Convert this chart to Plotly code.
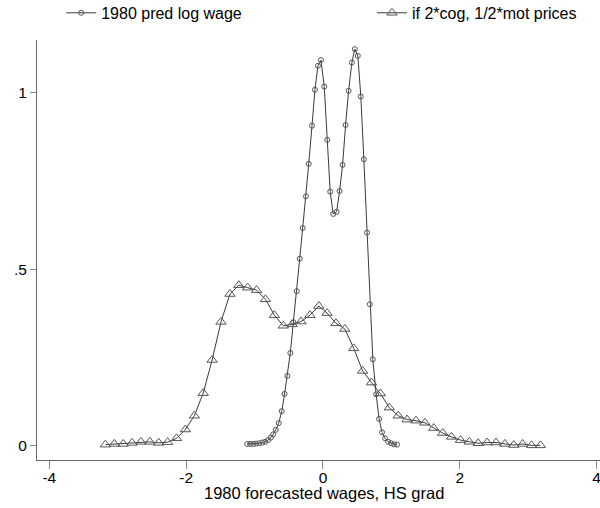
import plotly.graph_objects as go

# Series 1: 1980 pred log wage (circles)
base_x = [-1.108, -1.064, -1.020, -0.977, -0.933, -0.885, -0.845, -0.802, -0.762, -0.729,
          -0.690, -0.646, -0.602, -0.561, -0.520, -0.477, -0.433, -0.383, -0.340, -0.296,
          -0.248, -0.208, -0.160, -0.117, -0.073, -0.029, 0.019, 0.063, 0.106, 0.150,
          0.200, 0.243, 0.287, 0.331, 0.375, 0.423, 0.466, 0.510, 0.554, 0.598,
          0.644, 0.685, 0.729, 0.777, 0.821, 0.864, 0.908, 0.952, 0.996, 1.039, 1.083]
base_y = [0.005, 0.005, 0.005, 0.006, 0.007, 0.009, 0.011, 0.016, 0.023, 0.032,
          0.045, 0.064, 0.098, 0.147, 0.198, 0.263, 0.350, 0.438, 0.530, 0.617,
          0.707, 0.799, 0.907, 1.009, 1.077, 1.093, 1.018, 0.867, 0.720, 0.657,
          0.663, 0.722, 0.796, 0.909, 1.006, 1.086, 1.124, 1.105, 0.990, 0.812,
          0.604, 0.401, 0.245, 0.146, 0.076, 0.038, 0.021, 0.011, 0.007, 0.004, 0.003]

# Series 2: if 2*cog, 1/2*mot prices (triangles)
cf_x = [-3.18, -3.05, -2.92, -2.79, -2.66, -2.53, -2.40, -2.27, -2.14, -2.01,
        -1.88, -1.75, -1.62, -1.49, -1.36, -1.23, -1.10, -0.97, -0.84, -0.71,
        -0.58, -0.45, -0.32, -0.19, -0.06, 0.06, 0.19, 0.32, 0.45, 0.58,
        0.71, 0.84, 0.97, 1.10, 1.23, 1.36, 1.49, 1.62, 1.75, 1.88,
        2.01, 2.14, 2.27, 2.40, 2.53, 2.66, 2.79, 2.92, 3.05, 3.18]
cf_y = [0.003, 0.005, 0.005, 0.008, 0.011, 0.011, 0.008, 0.010, 0.021, 0.046,
        0.085, 0.149, 0.243, 0.351, 0.430, 0.455, 0.448, 0.441, 0.415, 0.370,
        0.340, 0.344, 0.352, 0.370, 0.396, 0.376, 0.347, 0.331, 0.276, 0.212,
        0.179, 0.148, 0.108, 0.085, 0.074, 0.071, 0.065, 0.050, 0.036, 0.025,
        0.016, 0.011, 0.007, 0.009, 0.009, 0.005, 0.002, 0.005, 0.001, 0.001]

names = ["1980 pred log wage", "if 2*cog, 1/2*mot prices"]
x_ticks = [-4, -2, 0, 2, 4]
x_ticklabels = ["-4", "-2", "0", "2", "4"]
y_ticks = [0, 0.5, 1]
y_ticklabels = ["0", ".5", "1"]
x_title = "1980 forecasted wages, HS grad"

FONT = "Arial, Liberation Sans, sans-serif"
LINE = "#3a3a3a"
MARK = "#555555"

fig = go.Figure()
fig.add_trace(go.Scatter(
    x=base_x, y=base_y, name=names[0], mode="lines+markers", legend="legend",
    line=dict(color=LINE, width=1),
    marker=dict(symbol="circle-open", size=5, color=MARK, line=dict(width=1, color=MARK)),
))
fig.add_trace(go.Scatter(
    x=cf_x, y=cf_y, name=names[1], mode="lines+markers", legend="legend2",
    line=dict(color=LINE, width=1),
    marker=dict(symbol="triangle-up-open", size=9, color=MARK, line=dict(width=1, color=MARK)),
))

leg_common = dict(orientation="h", xanchor="left", y=1.105, yanchor="top",
                  font=dict(size=16), itemwidth=30, bgcolor="rgba(0,0,0,0)")

fig.update_layout(
    width=600, height=508,
    margin=dict(l=37, r=0, t=40, b=48, autoexpand=False),
    paper_bgcolor="white", plot_bgcolor="white",
    font=dict(family=FONT, size=15, color="black"),
    showlegend=True,
    legend=dict(x=0.043, **leg_common),
    legend2=dict(x=0.595, **leg_common),
    xaxis=dict(range=[-4.18, 4.05], tickvals=x_ticks, ticktext=x_ticklabels,
               showgrid=False, zeroline=False, showline=True, linecolor="#666666",
               linewidth=1, ticks="outside", ticklen=8, tickcolor="#888888",
               ticklabelstandoff=-5, ticklabeloverflow="allow",
               tickfont=dict(size=15.5), automargin=False),
    yaxis=dict(range=[-0.0405, 1.150], tickvals=y_ticks, ticktext=y_ticklabels,
               showgrid=False, zeroline=False, showline=True, linecolor="#666666",
               linewidth=1, ticks="outside", ticklen=6, tickcolor="#888888",
               tickfont=dict(size=15.5), automargin=False),
    annotations=[dict(text=x_title, xref="paper", yref="paper", x=0.51, y=-0.079,
                      xanchor="center", yanchor="middle", showarrow=False,
                      font=dict(size=16.5))],
)

fig.write_html("out.html")
